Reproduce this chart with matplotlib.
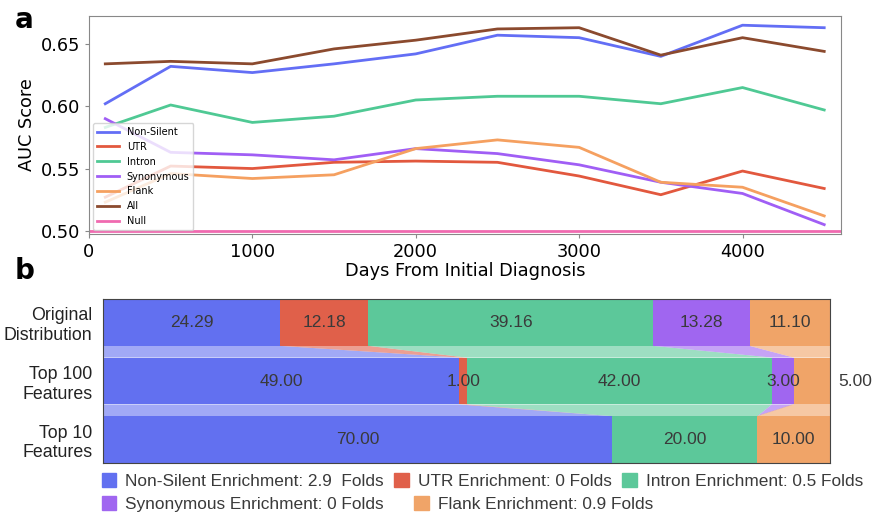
import matplotlib
matplotlib.use("Agg")
import matplotlib.pyplot as plt
from matplotlib.patches import Patch

# --- panel a: AUC over time ---
days = [100, 500, 1000, 1500, 2000, 2500, 3000, 3500, 4000, 4500]
auc_non_silent = [0.602, 0.632, 0.627, 0.634, 0.642, 0.657, 0.655, 0.640, 0.665, 0.663]
auc_utr = [0.527, 0.552, 0.550, 0.555, 0.556, 0.555, 0.544, 0.529, 0.548, 0.534]
auc_intron = [0.583, 0.601, 0.587, 0.592, 0.605, 0.608, 0.608, 0.602, 0.615, 0.597]
auc_synonymous = [0.590, 0.563, 0.561, 0.557, 0.566, 0.562, 0.553, 0.539, 0.530, 0.505]
auc_flank = [0.523, 0.546, 0.542, 0.545, 0.566, 0.573, 0.567, 0.539, 0.535, 0.512]
auc_all = [0.634, 0.636, 0.634, 0.646, 0.653, 0.662, 0.663, 0.641, 0.655, 0.644]
null_auc = 0.5

line_names = ["Non-Silent", "UTR", "Intron", "Synonymous", "Flank", "All"]
line_colors = ["#636EF5", "#E2583E", "#4FC994", "#A05EF5", "#F5A060", "#8B4A2E"]
null_color = "#F06AB0"

# --- panel b: feature distribution ---
groups = ["Original\nDistribution", "Top 100\nFeatures", "Top 10\nFeatures"]
categories = ["Non-Silent", "UTR", "Intron", "Synonymous", "Flank"]
shares = [
    [24.29, 12.18, 39.16, 13.28, 11.10],
    [49.00, 1.00, 42.00, 3.00, 5.00],
    [70.00, 0.00, 20.00, 0.00, 10.00],
]
enrichment = ["2.9 ", "0", "0.5", "0", "0.9"]
bar_colors = ["#6270F0", "#E0604A", "#5CC89A", "#A066F0", "#F0A468"]

fig = plt.figure(figsize=(8.72, 5.12), dpi=100)

ax1 = fig.add_axes([0.102, 0.543, 0.8625, 0.426])
for name, vals, c in zip(line_names,
                         [auc_non_silent, auc_utr, auc_intron, auc_synonymous, auc_flank, auc_all],
                         line_colors):
    ax1.plot(days, vals, color=c, lw=2, label=name)
ax1.axhline(null_auc, color=null_color, lw=2, label="Null")
ax1.set_xlim(0, 4603)
ax1.set_ylim(0.4975, 0.6725)
ax1.set_yticks([0.50, 0.55, 0.60, 0.65])
ax1.set_xticks([0, 1000, 2000, 3000, 4000])
ax1.tick_params(labelsize=12.8, color="#888888", length=3)
for s in ax1.spines.values():
    s.set_color("#888888")
ax1.set_xlabel("Days From Initial Diagnosis", fontsize=12.8, labelpad=1)
ax1.set_ylabel("AUC Score", fontsize=12.8, labelpad=3)
ax1.legend(loc="lower left", fontsize=7, labelspacing=0.5, handlelength=2.3,
           borderaxespad=0.4)
fig.text(0.017, 0.945, "a", fontsize=20, fontweight="bold")
fig.text(0.017, 0.455, "b", fontsize=20, fontweight="bold")

# bar panel
ax2 = fig.add_axes([0.1185, 0.0957, 0.8335, 0.3203])
bh = 0.8
lefts_all = []
for i, row in enumerate(shares):
    left = 0
    lefts = []
    for j, v in enumerate(row):
        lefts.append((left, left + v))
        if v > 0:
            ax2.barh(i, v, left=left, height=bh, color=bar_colors[j])
            if j == len(row) - 1 and v < 6:
                tx = 100 + 3.5
            else:
                tx = left + v / 2
            ax2.text(tx, i, f"{v:.2f}", ha="center", va="center", fontsize=12.5,
                     color="#3a3a3a", family="Liberation Sans", clip_on=False)
        left += v
    lefts_all.append(lefts)

# connecting bands between rows
for i in range(len(shares) - 1):
    y0 = i + bh / 2
    y1 = i + 1 - bh / 2
    for j in range(len(categories)):
        a0, a1 = lefts_all[i][j]
        b0, b1 = lefts_all[i + 1][j]
        ax2.fill([a0, a1, b1, b0], [y0, y0, y1, y1], color=bar_colors[j],
                 alpha=0.6, lw=0)

ax2.set_xlim(0, 100)
ax2.set_ylim(2.4, -0.4)
ax2.set_xticks([])
ax2.set_yticks(range(len(groups)))
ax2.set_yticklabels(groups, fontsize=12.8, family="Liberation Sans", color="#222222")
ax2.tick_params(axis="y", length=0, pad=8)
for s in ax2.spines.values():
    s.set_color("#444444")

handles = [Patch(color=c, label=f"{n} Enrichment: {e} Folds")
           for n, e, c in zip(categories, enrichment, bar_colors)]
leg_kw = dict(frameon=False, handlelength=0.84, handleheight=0.84,
              handletextpad=0.52, borderpad=0, borderaxespad=0,
              prop={"family": "Liberation Sans", "size": 12.4})
leg1 = fig.legend(handles=handles[:3], loc="center left", ncol=3, columnspacing=0.62,
                  bbox_to_anchor=(0.1165, 0.060), **leg_kw)
for t in leg1.get_texts():
    t.set_color("#3a3a3a")
leg2 = fig.legend(handles=handles[3:], loc="center left", ncol=2, columnspacing=1.78,
                  bbox_to_anchor=(0.1165, 0.015), **leg_kw)
for t in leg2.get_texts():
    t.set_color("#3a3a3a")

fig.savefig("out.png", dpi=100)
